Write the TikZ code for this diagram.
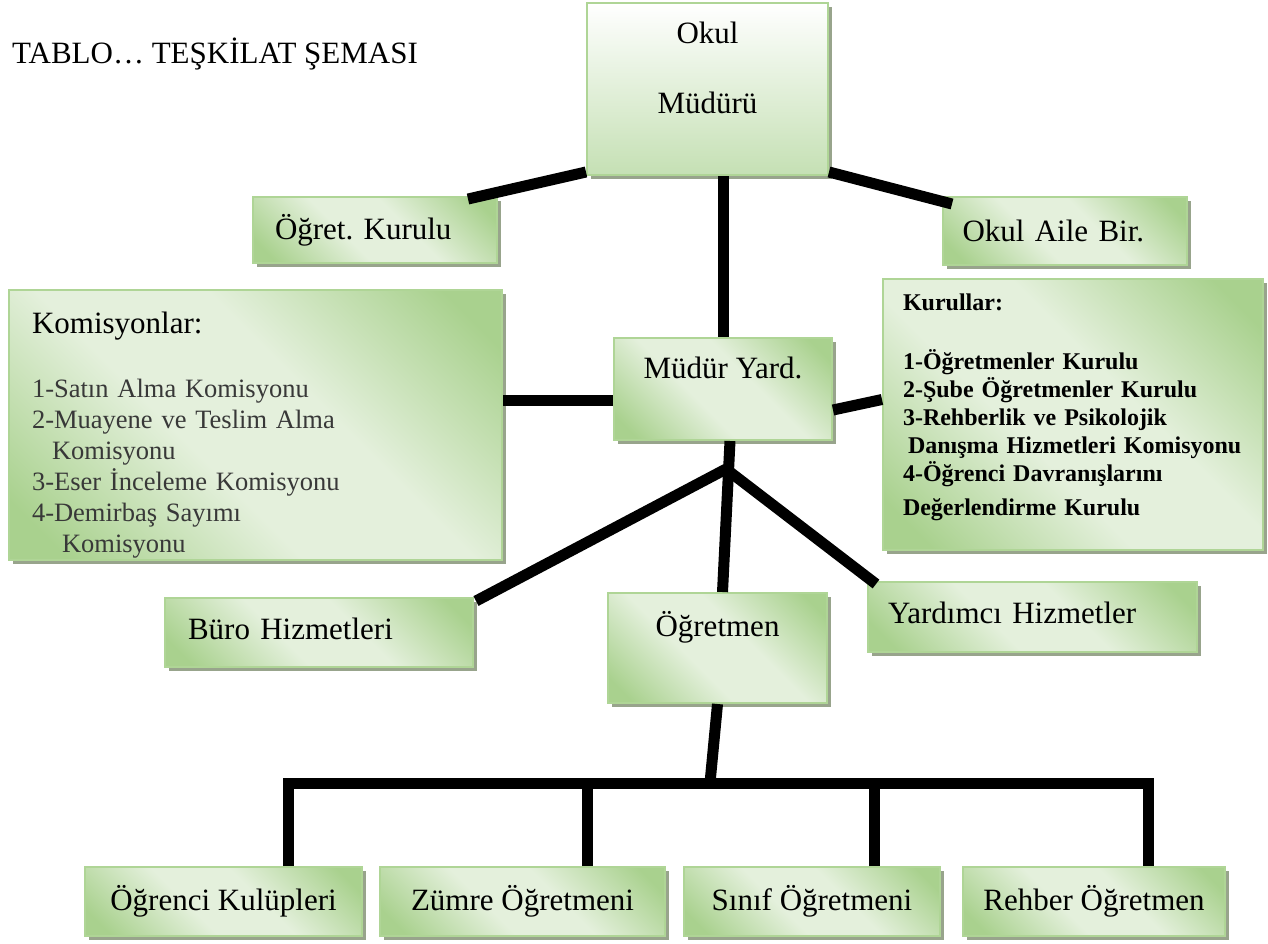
\documentclass[tikz,border=0pt]{standalone}
\usepackage{fontspec}
\setmainfont{Liberation Serif}
\usetikzlibrary{calc,shadows}
\frenchspacing

\definecolor{yesilkoyu}{RGB}{169,209,142}
\definecolor{yesilacik}{RGB}{228,240,220}
\definecolor{yesilcizgi}{RGB}{175,213,150}
\definecolor{yesilalt}{RGB}{197,224,180}
\definecolor{golgerenk}{RGB}{152,164,140}
\pgfdeclarehorizontalshading{yesilserit}{100bp}{color(0bp)=(yesilkoyu); color(20bp)=(yesilkoyu); color(42bp)=(yesilacik); color(58bp)=(yesilacik); color(80bp)=(yesilkoyu); color(100bp)=(yesilkoyu)}

\tikzset{
  kutu/.style={draw=yesilcizgi, line width=2pt, shade, shading=yesilserit, shading angle=45,
    inner sep=0pt, drop shadow={shadow xshift=4pt, shadow yshift=-4pt, fill=golgerenk, opacity=1},
    font=\fontsize{31}{37}\selectfont},
  mudurkutu/.style={kutu, top color=white, bottom color=yesilalt, shading angle=0},
  baglanti/.style={line width=11pt},
}

\begin{document}
\begin{tikzpicture}[x=1pt,y=-1pt]
		%%%%% START %%%%%
		
		\fill[white] (0,0) rectangle (1268,943);
		\useasboundingbox (0,0) rectangle (1268,943);
		
		\node[anchor=west, inner sep=0pt, font=\fontsize{31}{37}\selectfont] (baslik) at (12,54) {TABLO… TEŞKİLAT ŞEMASI};
		
		\node[mudurkutu, minimum width=241pt, minimum height=172pt, align=center, text depth=42pt] (okul) at (707.5,89) {Okul\\[33pt]Müdürü};
		\node[kutu, minimum width=244pt, minimum height=66pt, text width=200pt, align=left] (ogret) at (375,230) {Öğret. Kurulu};
		\node[kutu, minimum width=244pt, minimum height=68pt, text width=205pt, align=left] (aile) at (1065,231) {Okul Aile Bir.};
		
		\node[kutu, minimum width=493pt, minimum height=270pt, text width=447pt, align=left, text=black!78, text height=41pt,
			font=\fontsize{26.5}{31}\selectfont] (komis) at (255.5,425)
			{{\color{black}\fontsize{31}{37}\selectfont Komisyonlar:}\\[33pt]
			1-Satın Alma Komisyonu\\
			2-Muayene ve Teslim Alma\\
			\hspace*{20pt}Komisyonu\\
			3-Eser İnceleme Komisyonu\\
			4-Demirbaş Sayımı\\
			\hspace*{30pt}Komisyonu};
		\node[kutu, minimum width=218pt, minimum height=102pt, text depth=42pt] (yard) at (723,389) {Müdür Yard.};
		\node[kutu, minimum width=380pt, minimum height=271pt, text width=340pt, align=left, text depth=224pt,
			font=\bfseries\fontsize{24}{28}\selectfont] (kurul) at (1073,414.5)
			{Kurullar:\\[31pt]
			1-Öğretmenler Kurulu\\
			2-Şube Öğretmenler Kurulu\\
			3-Rehberlik ve Psikolojik\\
			\hspace*{5pt}Danışma Hizmetleri Komisyonu\\
			4-Öğrenci Davranışlarını\\[6pt]
			Değerlendirme Kurulu};
		
		\node[kutu, minimum width=308pt, minimum height=69pt, text width=262pt, align=left, text depth=8pt] (buro) at (319,632.5) {Büro Hizmetleri};
		\node[kutu, minimum width=219pt, minimum height=110pt, text depth=49pt] (ogretmen) at (717.5,648) {Öğretmen};
		\node[kutu, minimum width=329pt, minimum height=70pt, text width=289pt, align=left, text depth=8pt] (yardimci) at (1032.5,617) {Yardımcı Hizmetler};
		
		\node[kutu, minimum width=277pt, minimum height=69pt] (ogrenci) at (223.5,901.5) {Öğrenci Kulüpleri};
		\node[kutu, minimum width=285pt, minimum height=69pt] (zumre) at (522.5,901.5) {Zümre Öğretmeni};
		\node[kutu, minimum width=256pt, minimum height=69pt] (sinif) at (812,901.5) {Sınıf Öğretmeni};
		\node[kutu, minimum width=262pt, minimum height=69pt] (rehber) at (1094,901.5) {Rehber Öğretmen};
		
		% baglantilar
		\coordinate (sol) at ($(yard.west)+(0,11)$);
		\coordinate (dal) at ($(yard.south)+(3,28)$);
		\coordinate (hat) at ($(ogretmen.south)+(-7.5,79)$);
		
		\draw[baglanti] ($(okul.south west)+(0,-4)$) -- ($(ogret.north east)+(-30,3)$);
		\draw[baglanti] ($(okul.south east)+(0,-4)$) -- ($(aile.north west)+(10,8)$);
		\draw[baglanti] (okul.south -| yard.north) -- (yard.north);
		
		\draw[baglanti] (komis.east |- sol) -- (sol);
		\draw[baglanti] ($(yard.east)+(0,21)$) -- ($(kurul.west)+(0,-15)$);
		\draw[baglanti] ($(yard.south)+(7,0)$) -- ($(ogretmen.north)+(5,0)$);
		\draw[baglanti] (dal) -- ($(buro.north east)+(2,4)$);
		\draw[baglanti] (dal) -- ($(yardimci.north west)+(9,3)$);
		
		\draw[baglanti] (ogretmen.south) -- (hat);
		\draw[baglanti] ($(ogrenci.north)+(64.5,0)$) |- (hat) -| ($(rehber.north)+(54,0)$);
		\foreach \ad/\kay in {zumre/64.5, sinif/62}
			\draw[baglanti] ($(\ad.north)+(\kay,0)$) |- (hat);
		
		%%%%% END %%%%%
\end{tikzpicture}
\end{document}
